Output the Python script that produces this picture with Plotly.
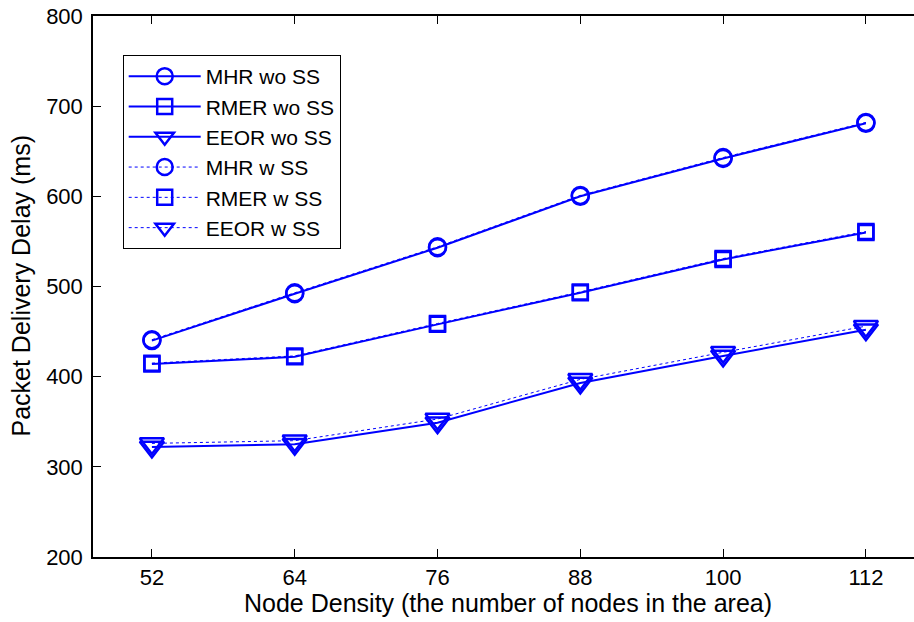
import plotly.graph_objects as go

nodes = [52, 64, 76, 88, 100, 112]
mhr_wo = [440, 492, 543, 600, 642, 681]
rmer_wo = [414, 422, 458, 493, 530, 560]
eeor_wo = [322, 325, 349, 393, 423, 452]
mhr_w = [441, 493, 544, 601, 643, 682]
rmer_w = [415, 423, 459, 494, 531, 561]
eeor_w = [326, 329, 353, 397, 427, 456]

x_ticks = [52, 64, 76, 88, 100, 112]
y_ticks = [200, 300, 400, 500, 600, 700, 800]

BLUE = "#0000FF"
FONT = "Liberation Sans, Arial, Helvetica, sans-serif"

# the original axes run past the right edge of the 914px picture
W, H = 930, 622
L, T, B = 93, 16, 65
PW, PH = W - L, H - T - B

series = [
    ("MHR wo SS", mhr_wo, "circle-open", 17, "solid", 2),
    ("RMER wo SS", rmer_wo, "square-open", 15, "solid", 2),
    ("EEOR wo SS", eeor_wo, "triangle-down-open", 21, "solid", 2),
    ("MHR w SS", mhr_w, "circle-open", 17, "dot", 1),
    ("RMER w SS", rmer_w, "square-open", 15, "dot", 1),
    ("EEOR w SS", eeor_w, "triangle-down-open", 21, "dot", 1),
]

fig = go.Figure()
for name, vals, sym, size, dash, lw in series:
    fig.add_trace(go.Scatter(
        x=nodes, y=vals, name=name, mode="lines+markers",
        line=dict(color=BLUE, width=lw, dash=dash),
        marker=dict(symbol=sym, size=size, color=BLUE,
                    line=dict(color=BLUE, width=2.5)),
    ))

fig.update_layout(
    width=W, height=H,
    margin=dict(l=L, r=0, t=T, b=B, autoexpand=False),
    paper_bgcolor="white", plot_bgcolor="white",
    font=dict(family=FONT, size=22, color="black"),
    showlegend=True,
    legend=dict(
        x=(122.7 - L) / PW, y=1 - (55 - T) / PH, xanchor="left", yanchor="top",
        bgcolor="white", bordercolor="black", borderwidth=1,
        font=dict(size=21, family=FONT, color="black"),
        itemwidth=72, tracegroupgap=0,
    ),
    xaxis=dict(
        range=[47.05, 47.05 + PW / 11.9],
        tickmode="array", tickvals=x_ticks, ticktext=[str(v) for v in x_ticks],
        ticks="inside", ticklen=8, tickwidth=1, tickcolor="black",
        showline=True, linecolor="black", linewidth=1.5, mirror="ticks",
        showgrid=False, zeroline=False,
        tickfont=dict(size=22),
    ),
    yaxis=dict(
        range=[200, 800],
        tickmode="array", tickvals=y_ticks, ticktext=[str(v) for v in y_ticks],
        ticks="inside", ticklen=8, tickwidth=1, tickcolor="black",
        showline=True, linecolor="black", linewidth=1.5, mirror=False,
        showgrid=False, zeroline=False,
        tickfont=dict(size=22),
        ticklabelstandoff=4,
    ),
    annotations=[
        dict(text="Node Density (the number of nodes in the area)",
             xref="paper", yref="paper", x=(508 - L) / PW, y=-(603 - 557) / PH,
             xanchor="center", yanchor="middle", showarrow=False,
             font=dict(size=25, family=FONT, color="black")),
        dict(text="Packet Delivery Delay (ms)",
             xref="paper", yref="paper", x=-(L - 20) / PW, y=0.5,
             xanchor="center", yanchor="middle", textangle=-90, showarrow=False,
             font=dict(size=25, family=FONT, color="black")),
    ],
)

fig.write_html(
    "out.html",
    config={"displayModeBar": False},
    post_script="document.body.style.margin='0';document.body.style.overflow='hidden';",
)
